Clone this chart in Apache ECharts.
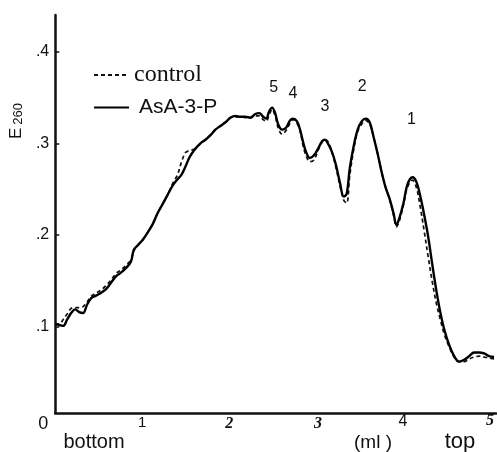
<!DOCTYPE html>
<html>
<head>
<meta charset="utf-8">
<script src="https://cdn.jsdelivr.net/npm/echarts@6/dist/echarts.min.js"></script>
<style>
  html, body { margin: 0; padding: 0; background: #fff; }
  #chart { width: 497px; height: 452px; }
</style>
</head>
<body>
<div id="chart"></div>
<script>
// Elution volume (ml) from the bottom of the gradient to the top
const volume = [
  0, 0.046, 0.092, 0.137, 0.183, 0.229, 0.275, 0.320, 0.366, 0.412,
  0.469, 0.526, 0.584, 0.641, 0.698, 0.755, 0.812, 0.870, 0.904, 0.950,
  1.007, 1.064, 1.121, 1.178, 1.236, 1.293, 1.350, 1.407, 1.453, 1.499,
  1.545, 1.602, 1.670, 1.728, 1.785, 1.842, 1.899, 1.957, 2.014, 2.071,
  2.128, 2.185, 2.243, 2.300, 2.346, 2.391, 2.426, 2.460, 2.494, 2.529,
  2.563, 2.609, 2.654, 2.700, 2.735, 2.780, 2.815, 2.849, 2.883, 2.929,
  2.975, 3.021, 3.066, 3.101, 3.135, 3.181, 3.227, 3.272, 3.318, 3.352,
  3.387, 3.432, 3.478, 3.524, 3.570, 3.616, 3.661, 3.707, 3.753, 3.799,
  3.844, 3.890, 3.924, 3.959, 4.005, 4.050, 4.108, 4.153, 4.199, 4.245,
  4.291, 4.336, 4.382, 4.428, 4.474, 4.531, 4.588, 4.645, 4.703, 4.760,
  4.817, 4.874, 4.931, 4.989, 5.046
];

// E260 of the control gradient
const control = [
  0.103, 0.103, 0.108, 0.114, 0.120, 0.121, 0.121, 0.122, 0.127, 0.133,
  0.137, 0.140, 0.145, 0.151, 0.158, 0.162, 0.167, 0.173, 0.183, 0.189,
  0.195, 0.203, 0.212, 0.224, 0.234, 0.244, 0.256, 0.266, 0.280, 0.290,
  0.292, 0.294, 0.300, 0.304, 0.309, 0.315, 0.319, 0.323, 0.328, 0.329,
  0.329, 0.328, 0.328, 0.330, 0.330, 0.326, 0.324, 0.331, 0.337, 0.330,
  0.317, 0.310, 0.314, 0.322, 0.326, 0.322, 0.314, 0.298, 0.287, 0.280,
  0.282, 0.292, 0.301, 0.304, 0.302, 0.291, 0.274, 0.255, 0.238, 0.235,
  0.265, 0.293, 0.313, 0.321, 0.325, 0.321, 0.307, 0.289, 0.269, 0.252,
  0.239, 0.222, 0.209, 0.216, 0.233, 0.252, 0.260, 0.252, 0.230, 0.203,
  0.175, 0.149, 0.126, 0.108, 0.092, 0.078, 0.067, 0.062, 0.062, 0.065,
  0.067, 0.068, 0.067, 0.066, 0.065
];

// E260 of the AsA-3-P gradient
const asa3p = [
  0.103, 0.102, 0.101, 0.108, 0.115, 0.119, 0.116, 0.115, 0.124, 0.131,
  0.134, 0.137, 0.141, 0.148, 0.155, 0.159, 0.164, 0.171, 0.184, 0.189,
  0.195, 0.203, 0.212, 0.224, 0.234, 0.244, 0.254, 0.261, 0.266, 0.275,
  0.285, 0.293, 0.300, 0.304, 0.309, 0.315, 0.319, 0.323, 0.328, 0.330,
  0.329, 0.329, 0.328, 0.332, 0.333, 0.329, 0.327, 0.335, 0.339, 0.333,
  0.321, 0.315, 0.317, 0.325, 0.327, 0.324, 0.315, 0.302, 0.291, 0.284,
  0.287, 0.294, 0.302, 0.304, 0.300, 0.291, 0.277, 0.258, 0.242, 0.245,
  0.273, 0.297, 0.315, 0.324, 0.327, 0.323, 0.307, 0.289, 0.269, 0.252,
  0.240, 0.224, 0.211, 0.219, 0.235, 0.255, 0.263, 0.258, 0.242, 0.221,
  0.197, 0.168, 0.140, 0.116, 0.097, 0.080, 0.068, 0.062, 0.064, 0.068,
  0.072, 0.072, 0.071, 0.068, 0.067
];

// Numbered fractions and the volume at which each peaks
const peakNames = ['5', '4', '3', '2', '1'];
const peakVolume = [2.494, 2.735, 3.101, 3.570, 4.108];

// Axis ticks
const xTicks = [0, 1, 2, 3, 4, 5];
const xTickLabels = ['0', '1', '2', '3', '4', '5'];
const yTicks = [0.1, 0.2, 0.3, 0.4];
const yTickLabels = ['.1', '.2', '.3', '.4'];

// Label placement above each peak (pixels)
const peakLabelOffset = [[1.5, -20], [0, -25], [0, -33], [-3.5, -32], [-1, -58]];

const SANS = 'Liberation Sans';
const SERIF = 'Liberation Serif';
const INK = '#111';

const toPairs = (ys) => volume.map((v, i) => [v, ys[i]]);

const peakMarks = peakNames.map((name, i) => {
  const idx = volume.indexOf(peakVolume[i]);
  return {
    name: name,
    coord: [volume[idx], asa3p[idx]],
    label: { offset: peakLabelOffset[i] }
  };
});

const boldItalic = { fontFamily: SERIF, fontStyle: 'italic', fontWeight: 'bold', fontSize: 16, lineHeight: 16, color: INK };
const centered = { align: 'center', verticalAlign: 'middle', textAlign: 'center', textVerticalAlign: 'middle' };

const chart = echarts.init(document.getElementById('chart'), null, { renderer: 'canvas' });

chart.setOption({
  animation: false,
  backgroundColor: '#fff',
  color: [INK, '#000'],
  grid: { left: 54, right: 0, top: 15, bottom: 39 },
  legend: {
    orient: 'vertical',
    left: 88,
    top: 58,
    itemWidth: 35,
    itemHeight: 12,
    itemGap: 10,
    selectedMode: false,
    itemStyle: { opacity: 0 },
    data: ['control', 'AsA-3-P'],
    formatter: (name) => name === 'control' ? '{c|control}' : '{a|AsA-3-P}',
    textStyle: {
      rich: {
        c: { fontFamily: SERIF, fontSize: 24, lineHeight: 24, color: INK },
        a: { fontFamily: SANS, fontSize: 21, lineHeight: 24, color: INK, padding: [0, 0, 0, 5] }
      }
    }
  },
  xAxis: {
    type: 'value',
    min: 0,
    max: 5.07,
    splitLine: { show: false },
    axisTick: { show: false },
    axisLine: { show: true, lineStyle: { color: INK, width: 2.5 } },
    axisLabel: {
      customValues: xTicks,
      margin: 0,
      formatter: (v) => {
        const i = xTicks.indexOf(v);
        return i < 0 ? '' : '{s' + i + '|' + xTickLabels[i] + '}';
      },
      rich: {
        s0: { fontFamily: SANS, fontSize: 18, lineHeight: 18, color: INK, padding: [5, 24, 0, 0] },
        s1: { fontFamily: SANS, fontSize: 15, lineHeight: 15, color: INK, padding: [5, 0, 0, 0] },
        s2: Object.assign({}, boldItalic, { padding: [5, 0, 0, 0] }),
        s3: Object.assign({}, boldItalic, { padding: [5, 0, 0, 4] }),
        s4: { fontFamily: SANS, fontSize: 16, lineHeight: 16, color: INK, padding: [1, 0, 0, 0] },
        s5: Object.assign({}, boldItalic, { padding: [0, 0, 0, 0] })
      }
    }
  },
  yAxis: {
    type: 'value',
    min: 0.006,
    max: 0.44,
    name: '{e|E}{s|260}',
    nameLocation: 'middle',
    nameRotate: 90,
    nameGap: 27,
    nameTextStyle: {
      padding: [0, 0, 0, 186],
      rich: {
        e: { fontFamily: SANS, fontSize: 17, lineHeight: 20, color: INK, verticalAlign: 'bottom' },
        s: { fontFamily: SANS, fontSize: 13, lineHeight: 20, color: INK, verticalAlign: 'bottom', padding: [0, 0, 0, 3] }
      }
    },
    splitLine: { show: false },
    axisLine: { show: true, lineStyle: { color: INK, width: 2.5 } },
    axisTick: {
      show: true,
      inside: true,
      length: 4,
      customValues: yTicks,
      lineStyle: { color: INK, width: 1.5 }
    },
    axisLabel: {
      customValues: yTicks,
      margin: 6,
      fontFamily: SANS,
      fontSize: 16,
      color: INK,
      formatter: (v) => {
        const i = yTicks.findIndex((t) => Math.abs(t - v) < 1e-9);
        return i < 0 ? '' : yTickLabels[i];
      }
    }
  },
  series: [
    {
      name: 'control',
      type: 'line',
      data: toPairs(control),
      smooth: 0.35,
      symbol: 'none',
      z: 2,
      itemStyle: { color: INK },
      lineStyle: { color: INK, width: 1.7, type: [4, 3] }
    },
    {
      name: 'AsA-3-P',
      type: 'line',
      data: toPairs(asa3p),
      smooth: 0.35,
      symbol: 'none',
      z: 3,
      itemStyle: { color: '#000' },
      lineStyle: { color: '#000', width: 2.4 },
      markPoint: {
        symbol: 'circle',
        symbolSize: 0,
        silent: true,
        label: {
          show: true,
          position: 'inside',
          formatter: '{b}',
          fontFamily: SANS,
          fontSize: 16,
          color: INK
        },
        data: peakMarks
      }
    }
  ],
  graphic: [
    {
      type: 'text', x: 94, y: 442,
      style: Object.assign({ text: 'bottom', font: '20px "Liberation Sans"', fill: INK }, centered)
    },
    {
      type: 'text', x: 373, y: 443,
      style: Object.assign({ text: '(ml )', font: '19px "Liberation Sans"', fill: INK }, centered)
    },
    {
      type: 'text', x: 460, y: 442,
      style: Object.assign({ text: 'top', font: '22px "Liberation Sans"', fill: INK }, centered)
    }
  ]
});
</script>
</body>
</html>
